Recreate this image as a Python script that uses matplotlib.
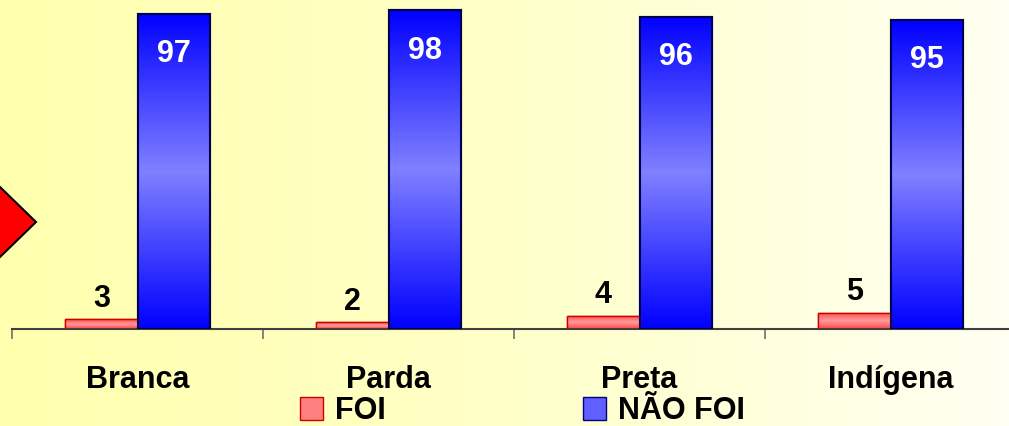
import matplotlib.pyplot as plt
import numpy as np
from matplotlib.colors import LinearSegmentedColormap
from matplotlib.patches import Polygon, Patch

categories = ['Branca', 'Parda', 'Preta', 'Indígena']
foi = [3, 2, 4, 5]
nao_foi = [97, 98, 96, 95]
legend_labels = ['FOI', 'NÃO FOI']

W, H = 1009, 426
plt.rcParams['font.family'] = ['Liberation Sans', 'DejaVu Sans']
plt.rcParams['font.weight'] = 'bold'

fig = plt.figure(figsize=(W / 100, H / 100), dpi=100)

# background gradient yellow -> near white
bg = fig.add_axes([0, 0, 1, 1], zorder=-5)
bg_cmap = LinearSegmentedColormap.from_list('bg', ['#FFFFAE', '#FFFFC8', '#FFFFF2'])
bg.imshow(np.linspace(0, 1, 256)[None, :], cmap=bg_cmap, aspect='auto', extent=(0, 1, 0, 1))
bg.axis('off')

ax = fig.add_axes([12 / W, (H - 329) / H, 1004 / W, 329 / H])
ax.set_facecolor('none')

x = np.arange(len(categories))
w = 0.287
red_bars = ax.bar(x - w / 2, foi, w, color='#FF7070', edgecolor='#CC0000', linewidth=1, zorder=2)
blue_bars = ax.bar(x + w / 2, nao_foi, w, color='#3030FF', edgecolor='#000050', linewidth=1.5, zorder=2)

red_cmap = LinearSegmentedColormap.from_list('r', ['#FF4848', '#FF9A9A', '#FF4848'])
blue_cmap = LinearSegmentedColormap.from_list('b', ['#0000FF', '#8080FF', '#0000FF'])
grad = np.linspace(0, 1, 256)[:, None]
for bars, cm in [(red_bars, red_cmap), (blue_bars, blue_cmap)]:
    for b in bars:
        im = ax.imshow(grad, cmap=cm, aspect='auto', zorder=2.5,
                       extent=(b.get_x(), b.get_x() + b.get_width(), 0, b.get_height()))
        im.set_clip_path(b)
    for b in bars:
        ax.bar(b.get_x() + b.get_width() / 2, b.get_height(), b.get_width(),
               fill=False, edgecolor=b.get_edgecolor(), linewidth=b.get_linewidth(), zorder=3)

for xi, v in zip(x, foi):
    ax.annotate(str(v), (xi - w / 2, v), xytext=(0, 4), textcoords='offset points',
                ha='center', va='bottom', fontsize=22, fontweight='bold', color='black', zorder=4)
for xi, v in zip(x, nao_foi):
    ax.annotate(str(v), (xi + w / 2, v), xytext=(0, -29), textcoords='offset points',
                ha='center', va='center', fontsize=22, fontweight='bold', color='white', zorder=4)

ax.set_xlim(-0.5, 3.5)
ax.set_ylim(0, 101.2)
ax.set_xticks(x)
ax.set_xticklabels(categories, fontsize=22, fontweight='bold')
ax.tick_params(axis='x', which='major', length=0, pad=26)
ax.set_xticks(np.arange(-0.5, 3.6, 1), minor=True)
ax.tick_params(axis='x', which='minor', length=7, width=1.2, color='#707070', direction='out')
ax.set_yticks([])
for s in ['top', 'right', 'left']:
    ax.spines[s].set_visible(False)
ax.spines['bottom'].set_color('#404040')
ax.spines['bottom'].set_linewidth(1.5)

# red arrow/diamond on left edge
pts = [(36, 222), (0, 187), (-36, 222), (0, 257)]
fig.patches.append(Polygon([(px / W, 1 - py / H) for px, py in pts], closed=True,
                           transform=fig.transFigure, facecolor='#FF0000',
                           edgecolor='black', linewidth=1.5, zorder=5))

handles = [Patch(facecolor='#FF8080', edgecolor='#CC0000'),
           Patch(facecolor='#6060FF', edgecolor='#000080')]
fig.legend(handles, legend_labels, loc='center left', bbox_to_anchor=(300 / W, 15 / H),
           ncol=2, frameon=False, fontsize=22, handlelength=0.75, handleheight=0.75,
           handletextpad=0.4, columnspacing=6.45, borderaxespad=0, borderpad=0)

fig.savefig('out.png', dpi=100)
